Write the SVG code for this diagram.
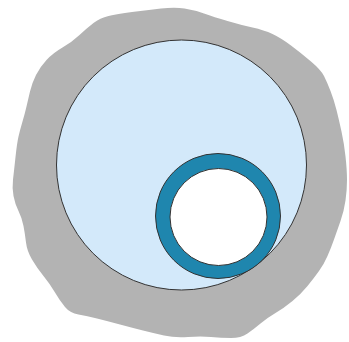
<svg xmlns="http://www.w3.org/2000/svg" width="349" height="342" viewBox="0 0 349 342">
<style>
.blob{fill:#b3b3b3;stroke:none}
.outer{fill:#d3e9fa;stroke:#333;stroke-width:1}
.ring{fill:#1f86ae;stroke:#333;stroke-width:1}
.hole{fill:#ffffff;stroke:#333;stroke-width:1}
</style>
<g id="blob">
<path class="blob" d="M161,8.5 Q175,7 184.5,8.5 Q194,10 204,13.5 Q214,17 227.5,21 Q241,25 252.5,27.5 Q264,30 272.5,34 Q281,38 291,45.5 Q301,53 311,61.5 Q321,70 324,76 Q327,82 330.5,91 Q334,100 336.5,110 Q339,120 341.5,131.5 Q344,143 345.5,156.5 Q347,170 347,180 Q347,190 345.5,200.5 Q344,211 340.5,221 Q337,231 334,239.5 Q331,248 327.5,256 Q324,264 319,271 Q314,278 307.5,286 Q301,294 292.5,301 Q284,308 275.5,313 Q267,318 260.5,323.5 Q254,329 247.5,333.5 Q241,338 231,338 Q221,338 211,337 Q201,336 188,337 Q175,338 164,335.5 Q153,333 143,330.5 Q133,328 120,324.5 Q107,321 97,318.5 Q87,316 78.5,314.5 Q70,313 65,307 Q60,301 55,292.5 Q50,284 43.5,276 Q37,268 32,259.5 Q27,251 26,242.5 Q25,234 23.5,226 Q22,218 18.5,211 Q15,204 13.5,196 Q12,188 13,179.5 Q14,171 15.5,157 Q17,143 18.5,136.5 Q20,130 22.5,121.5 Q25,113 26.5,106.5 Q28,100 30,91.5 Q32,83 36,75 Q40,67 46.5,60 Q53,53 62.5,47.5 Q72,42 79.5,35 Q87,28 93.5,23 Q100,18 108.5,16 Q117,14 132,12 Q147,10 161,8.5 Z"/>
</g>
<g id="outer-circle">
<circle class="outer" cx="181.5" cy="165" r="125"/>
</g>
<g id="ring">
<circle class="ring" cx="218" cy="216" r="62.5"/>
<circle class="hole" cx="218.5" cy="217" r="48.5"/>
</g>
</svg>
